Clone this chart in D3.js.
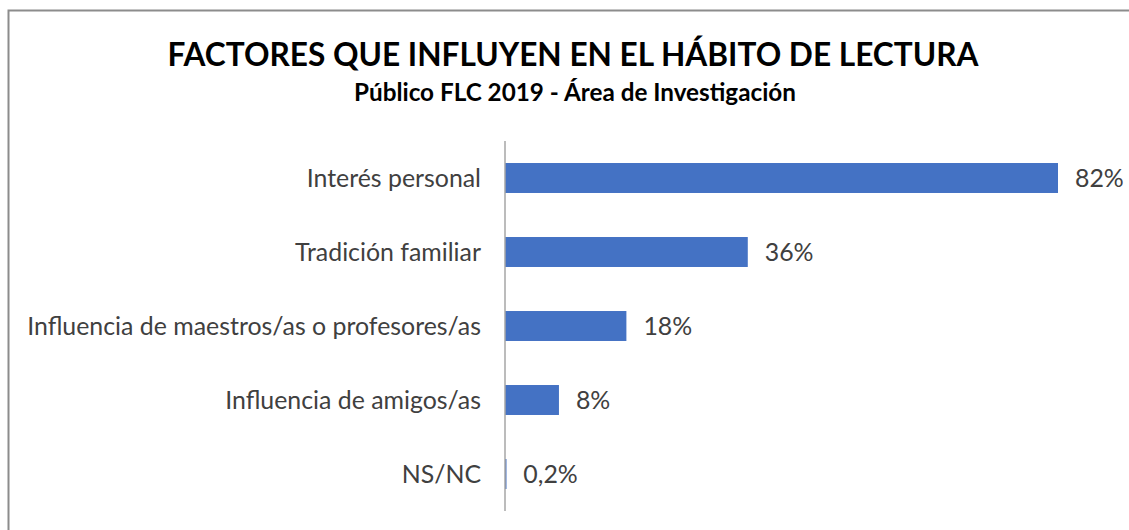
<!DOCTYPE html>
<html>
<head>
<meta charset="utf-8">
<script src="https://cdn.jsdelivr.net/npm/d3@7"></script>
<style>
  body { margin: 0; background: #fff; }
  text { font-family: Lato, "Open Sans", sans-serif; }
</style>
</head>
<body>
<script>
// Datos del gráfico
const categories = ["Interés personal", "Tradición familiar", "Influencia de maestros/as o profesores/as", "Influencia de amigos/as", "NS/NC"];
const values = [82, 36, 18, 8, 0.2];
const valueLabels = ["82%", "36%", "18%", "8%", "0,2%"];
const title = "FACTORES QUE INFLUYEN EN EL HÁBITO DE LECTURA";
const subtitle = "Público FLC 2019 - Área de Investigación";

const W = 1129, H = 530;
const svg = d3.select("body").append("svg").attr("width", W).attr("height", H);

// ajusta el tamaño de letra para ocupar el ancho del original
function fitWidth(sel, target) {
    const fs = +sel.attr("font-size");
    const w = sel.node().getComputedTextLength();
    sel.attr("font-size", (fs * target / w).toFixed(2));
}

// marco del gráfico
svg.append("path")
    .attr("d", `M8.5,${H} V10.5 H${W}`)
    .attr("fill", "none").attr("stroke", "#8c8c8c").attr("stroke-width", 2);

const t1 = svg.append("text").attr("x", 573).attr("y", 66).attr("text-anchor", "middle")
    .attr("font-size", 30).attr("font-weight", "bold").attr("fill", "#000")
    .text(title);
fitWidth(t1, 811);
const t2 = svg.append("text").attr("x", 575).attr("y", 101).attr("text-anchor", "middle")
    .attr("font-size", 20).attr("font-weight", "bold").attr("fill", "#000")
    .text(subtitle);
fitWidth(t2, 442);

const x = d3.scaleLinear().domain([0, 82]).range([505, 1058]);
const y = d3.scaleBand().domain(categories).range([141, 511]).paddingInner(0.595).paddingOuter(0.2975);

svg.selectAll("rect.bar")
    .data(values)
    .enter()
    .append("rect")
    .attr("class", "bar")
    .attr("x", x(0))
    .attr("y", (d, i) => y(categories[i]))
    .attr("width", d => Math.max(x(d) - x(0), 1.5))
    .attr("height", y.bandwidth())
    .attr("fill", "#4472C4");

// eje vertical
svg.append("line")
    .attr("x1", x(0)).attr("x2", x(0))
    .attr("y1", 141).attr("y2", 511)
    .attr("stroke", "#a6a6a6").attr("stroke-width", 1.5);

const cats = svg.selectAll("text.cat")
    .data(categories)
    .enter()
    .append("text")
    .attr("class", "cat")
    .attr("x", 481)
    .attr("y", d => y(d) + y.bandwidth() / 2)
    .attr("dy", "0.35em")
    .attr("text-anchor", "end")
    .attr("font-size", 20)
    .attr("fill", "#404040")
    .text(d => d);
// la etiqueta más larga mide 454px en el original
const longest = cats.filter((d, i) => i === 2);
const fsCat = 20 * 454 / longest.node().getComputedTextLength();
cats.attr("font-size", fsCat.toFixed(2));

svg.selectAll("text.val")
    .data(values)
    .enter()
    .append("text")
    .attr("class", "val")
    .attr("x", d => x(d) + 17)
    .attr("y", (d, i) => y(categories[i]) + y.bandwidth() / 2)
    .attr("dy", "0.35em")
    .attr("font-size", fsCat.toFixed(2))
    .attr("fill", "#404040")
    .text((d, i) => valueLabels[i]);
</script>
</body>
</html>
